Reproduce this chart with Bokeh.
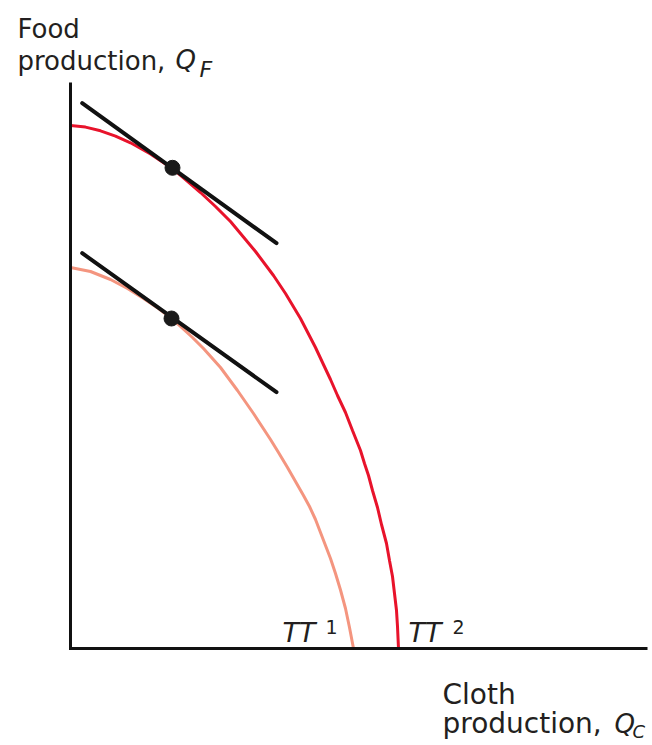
from bokeh.plotting import figure
from bokeh.models import Range1d, Label
from bokeh.embed import file_html
from bokeh.resources import INLINE

# Production possibility frontiers (cloth on x, food on y), units
cloth_tt1 = [0, 20, 40, 57, 73, 88, 101, 110, 122, 133, 150, 167, 183, 200, 208, 217, 225, 233, 239,
             245, 250, 255, 260, 265, 270, 275, 279, 283]
food_tt1 = [381, 377, 369, 360, 350, 340, 330, 322, 311, 300, 281, 258, 235, 209, 196, 181, 167, 153, 142,
            129, 116, 103, 90, 75, 58.5, 40, 21, 0]

cloth_tt2 = [0, 15, 30, 45, 60, 80, 102, 115, 130, 145, 160, 185, 203, 215, 230, 245, 252, 260, 267, 275,
             282, 290, 294, 298, 302, 307, 311, 316, 319, 322, 324, 326, 327, 328]
food_tt2 = [523, 521.4, 517.7, 512.4, 505.7, 494.5, 479.8, 469, 456, 442, 427, 397, 373, 355, 330, 301, 286,
            269, 253, 236, 218, 198, 185, 173, 158, 141, 124, 105, 88, 72, 55, 38, 22, 0]

# Axis extents
axis_cloth_max = 577
axis_food_max = 566

# Production points (tangency) and relative-price lines
point_cloth = [101, 102]
point_food = [330, 480.7]
price_x0 = [11.7, 11.7]
price_y0 = [395.3, 545.3]
price_x1 = [206, 206]
price_y1 = [256.3, 405.3]

# Text labels
label_text = ["Food", "production,", "Q", "F",
              "Cloth", "production,", "Q", "C",
              "TT", "1", "TT", "2"]
label_x = [-53, -53, 105, 129, 372, 372, 544, 562, 212, 255, 338, 382]
label_y = [620, 588, 589, 579, -46, -75, -75, -83, 16, 22, 16, 22]
label_size = ["26px", "26px", "26px", "22px", "28px", "28px", "26px", "18px", "27px", "19px", "27px", "19px"]
label_style = ["normal", "normal", "italic", "italic", "normal", "normal", "italic", "italic",
               "italic", "normal", "italic", "normal"]

W, H = 650, 743
p = figure(width=W, height=H, output_backend="svg", toolbar_location=None,
           x_range=Range1d(-70, W - 70), y_range=Range1d(648 - H, 648),
           x_axis_type=None, y_axis_type=None,
           min_border=0, min_border_left=0, min_border_right=0,
           min_border_top=0, min_border_bottom=0)
p.grid.visible = False
p.outline_line_color = None
p.background_fill_color = "white"
p.border_fill_color = "white"

p.line(cloth_tt1, food_tt1, line_color="#f4957f", line_width=3)
p.line(cloth_tt2, food_tt2, line_color="#e8132b", line_width=3)

# axes
p.line([0, 0, axis_cloth_max], [axis_food_max, 0, 0], line_color="#111111", line_width=3,
       line_join="miter")

p.segment(x0=price_x0, y0=price_y0, x1=price_x1, y1=price_y1,
          line_color="#111111", line_width=4, line_cap="round")
p.scatter(point_cloth, point_food, size=15, marker="circle",
          fill_color="#1a1a1a", line_color="#1a1a1a")

for t, x, y, s, st in zip(label_text, label_x, label_y, label_size, label_style):
    p.add_layout(Label(x=x, y=y, text=t, text_font="DejaVu Sans", text_font_size=s,
                       text_font_style=st, text_color="#231f20",
                       text_align="left", text_baseline="alphabetic"))

open("out.html", "w").write(file_html(p, INLINE))
